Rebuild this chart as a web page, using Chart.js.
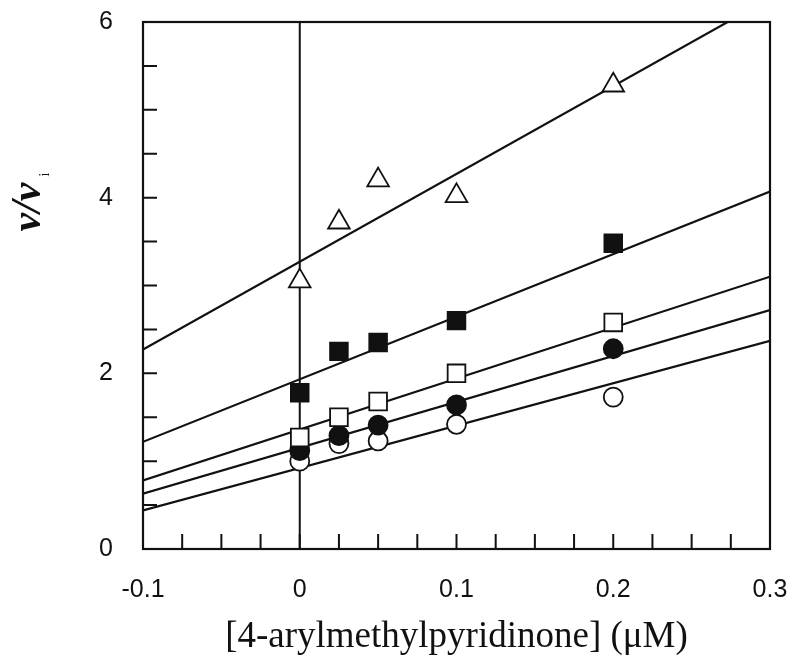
<!DOCTYPE html>
<html>
<head>
<meta charset="utf-8">
<script src="https://cdn.jsdelivr.net/npm/chart.js@4.4.1/dist/chart.umd.min.js"></script>
<style>
  html, body { margin: 0; padding: 0; background: #fff; }
  #wrap { width: 794px; height: 663px; }
</style>
</head>
<body>
<div id="wrap"><canvas id="plot" width="794" height="663"></canvas></div>
<script>
// concentrations of 4-arylmethylpyridinone (uM)
const conc = [0, 0.025, 0.05, 0.1, 0.2];

// v/vi for each series
const openTriangles = [3.05, 3.72, 4.2, 4.02, 5.28];
const filledSquares = [1.78, 2.25, 2.35, 2.6, 3.48];
const openSquares = [1.27, 1.5, 1.68, 2.0, 2.58];
const filledCircles = [1.12, 1.29, 1.41, 1.64, 2.28];
const openCircles = [1.0, 1.2, 1.23, 1.42, 1.73];

// fitted lines, end points at x = -0.1 and x = 0.3
const lineX = [-0.1, 0.3];
const triangleFit = [2.27, 6.27];
const filledSquareFit = [1.22, 4.07];
const openSquareFit = [0.78, 3.1];
const filledCircleFit = [0.63, 2.72];
const openCircleFit = [0.44, 2.37];

const xTicks = [-0.1, 0, 0.1, 0.2, 0.3];
const yTicks = [0, 2, 4, 6];

const pts = (xs, ys) => xs.map((x, i) => ({ x: x, y: ys[i] }));

const lineSet = (ys) => ({
    type: 'line',
    data: pts(lineX, ys),
    borderColor: '#111',
    borderWidth: 2.2,
    pointRadius: 0,
    fill: false,
    order: 2
});

const markerSet = (ys, style, radius, filled) => ({
    type: 'scatter',
    data: pts(conc, ys),
    pointStyle: style,
    pointRadius: radius,
    pointHoverRadius: radius,
    pointBackgroundColor: filled ? '#111' : '#fff',
    pointBorderColor: '#111',
    pointBorderWidth: 1.8,
    order: 1
});

const isMajor = (v, list) => list.some(t => Math.abs(t - v) < 1e-6);

// frame, inward ticks, zero line and y title
const framePlugin = {
    id: 'frame',
    beforeDatasetsDraw(chart) {
        const { ctx, chartArea: a, scales: { x } } = chart;
        ctx.save();
        ctx.strokeStyle = '#111';
        ctx.lineWidth = 2;
        const x0 = x.getPixelForValue(0);
        ctx.beginPath();
        ctx.moveTo(x0, a.bottom);
        ctx.lineTo(x0, a.top);
        ctx.stroke();
        ctx.restore();
    },
    afterDraw(chart) {
        const { ctx, chartArea: a, scales: { x, y } } = chart;
        ctx.save();
        ctx.strokeStyle = '#111';
        ctx.lineWidth = 2.2;
        ctx.strokeRect(a.left, a.top, a.right - a.left, a.bottom - a.top);
        ctx.lineWidth = 2;
        ctx.beginPath();
        x.ticks.forEach(t => {
            const px = x.getPixelForValue(t.value);
            ctx.moveTo(px, a.bottom);
            ctx.lineTo(px, a.bottom - 15);
        });
        y.ticks.forEach(t => {
            const py = y.getPixelForValue(t.value);
            ctx.moveTo(a.left, py);
            ctx.lineTo(a.left + 14, py);
        });
        ctx.stroke();

        // y title: v/v with subscript i
        ctx.translate(40, 203);
        ctx.rotate(-Math.PI / 2);
        ctx.fillStyle = '#111';
        ctx.font = 'italic bold 42px "Liberation Serif"';
        ctx.textBaseline = 'alphabetic';
        ctx.textAlign = 'left';
        const main = 'v/v';
        const w = ctx.measureText(main).width;
        ctx.fillText(main, -w / 2 - 4, 0);
        ctx.font = '14px "Liberation Serif"';
        ctx.fillText('i', w / 2 + 2, 9);
        ctx.restore();
    }
};

const canvas = document.getElementById('plot');
const ctx = canvas.getContext('2d');
window.kineticsChart = new Chart(ctx, {
    data: {
        datasets: [
            lineSet(triangleFit),
            lineSet(filledSquareFit),
            lineSet(openSquareFit),
            lineSet(filledCircleFit),
            lineSet(openCircleFit),
            markerSet(openTriangles, 'triangle', 12.5, false),
            markerSet(filledSquares, 'rect', 12.5, true),
            markerSet(openSquares, 'rect', 12.5, false),
            markerSet(filledCircles, 'circle', 9.5, true),
            markerSet(openCircles, 'circle', 9.5, false)
        ]
    },
    options: {
        responsive: false,
        animation: false,
        devicePixelRatio: 1,
        layout: { padding: { top: 22, right: 24, left: 0, bottom: 0 } },
        plugins: {
            legend: { display: false },
            tooltip: { enabled: false }
        },
        scales: {
            x: {
                type: 'linear',
                min: -0.1,
                max: 0.3,
                grid: { display: false },
                border: { display: false },
                ticks: {
                    stepSize: 0.025,
                    autoSkip: false,
                    maxRotation: 0,
                    padding: 18,
                    color: '#111',
                    font: { size: 25, family: "'Liberation Sans', Arial, sans-serif" },
                    callback: (v) => isMajor(v, xTicks) ? String(Math.round(v * 10) / 10) : ''
                },
                title: {
                    display: true,
                    text: '[4-arylmethylpyridinone] (\u03bcM)',
                    color: '#111',
                    padding: { top: 0, bottom: 4 },
                    font: { size: 37, family: "'Liberation Serif', 'Times New Roman', serif" }
                },
                afterFit: (s) => {
                    s.height = 114;
                    s.paddingLeft = 0;
                    s.paddingRight = 0;
                }
            },
            y: {
                type: 'linear',
                min: 0,
                max: 6,
                grid: { display: false },
                border: { display: false },
                ticks: {
                    stepSize: 0.5,
                    autoSkip: false,
                    padding: 22,
                    color: '#111',
                    font: { size: 25, family: "'Liberation Sans', Arial, sans-serif" },
                    callback: (v) => isMajor(v, yTicks) ? String(v) : ''
                },
                afterFit: (s) => {
                    s.width = 143;
                    s.paddingTop = 0;
                    s.paddingBottom = 0;
                }
            }
        }
    },
    plugins: [framePlugin]
});
</script>
</body>
</html>
